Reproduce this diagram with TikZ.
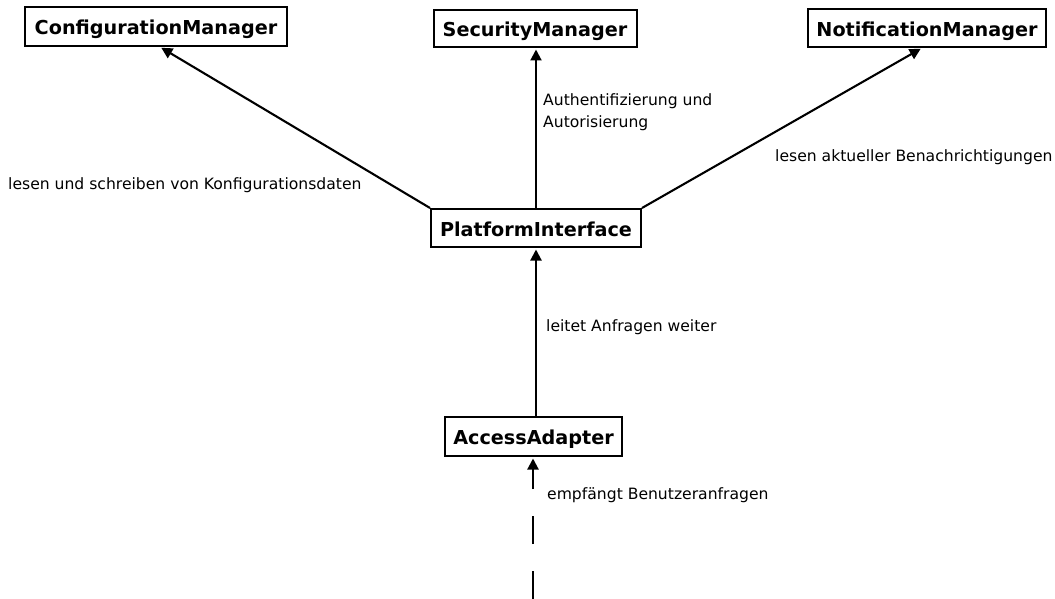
\documentclass[tikz,border=0pt]{standalone}
\usepackage{fontspec}
\setmainfont{DejaVu Sans}
\usetikzlibrary{arrows.meta}
\begin{document}
\begin{tikzpicture}[x=1pt,y=-1pt,
  comp/.style={draw, line width=2pt, inner sep=0pt, minimum height=38pt,
    text height=17pt, text depth=0.5pt,
    font=\fontsize{19.2}{21}\selectfont\bfseries},
  lbl/.style={inner sep=0pt, anchor=west, font=\fontsize{15.6}{22}\selectfont, align=left},
  arr/.style={line width=2.1pt, -{Triangle[length=11pt,width=11pt]}, shorten >=1.5pt}]
\useasboundingbox (0,0) rectangle (1055,599);
% components
\node[comp, minimum width=262pt, minimum height=39pt] (cm) at (156,26.5) {ConfigurationManager};
\node[comp, minimum width=203pt, minimum height=37pt] (sm) at (535,28.5) {SecurityManager};
\node[comp, minimum width=238pt] (nm) at (927,28) {NotificationManager};
\node[comp, minimum width=210pt] (pi) at (536,228) {PlatformInterface};
\node[comp, minimum width=177pt, minimum height=39pt] (aa) at (533.5,436.5) {AccessAdapter};
\coordinate (src) at (533,599);
% connectors
\draw[arr] (pi.north west) -- ([xshift=4pt]cm.south);
\draw[arr] (pi.north) -- (pi.north |- sm.south);
\draw[arr] (pi.north east) -- ([xshift=-5pt]nm.south);
\draw[arr] (pi.south |- aa.north) -- (pi.south);
\draw[arr, dash pattern=on 28pt off 27pt] (src) -- (src |- aa.south);
% connector labels
\node[lbl] (l1) at (8,185) {lesen und schreiben von Konfigurationsdaten};
\node[lbl] (l2) at (543,112) {Authentifizierung und\\Autorisierung};
\node[lbl] (l3) at (775,157) {lesen aktueller Benachrichtigungen};
\node[lbl] (l4) at (546,327) {leitet Anfragen weiter};
\node[lbl] (l5) at (547,495) {empfängt Benutzeranfragen};
\end{tikzpicture}
\end{document}
